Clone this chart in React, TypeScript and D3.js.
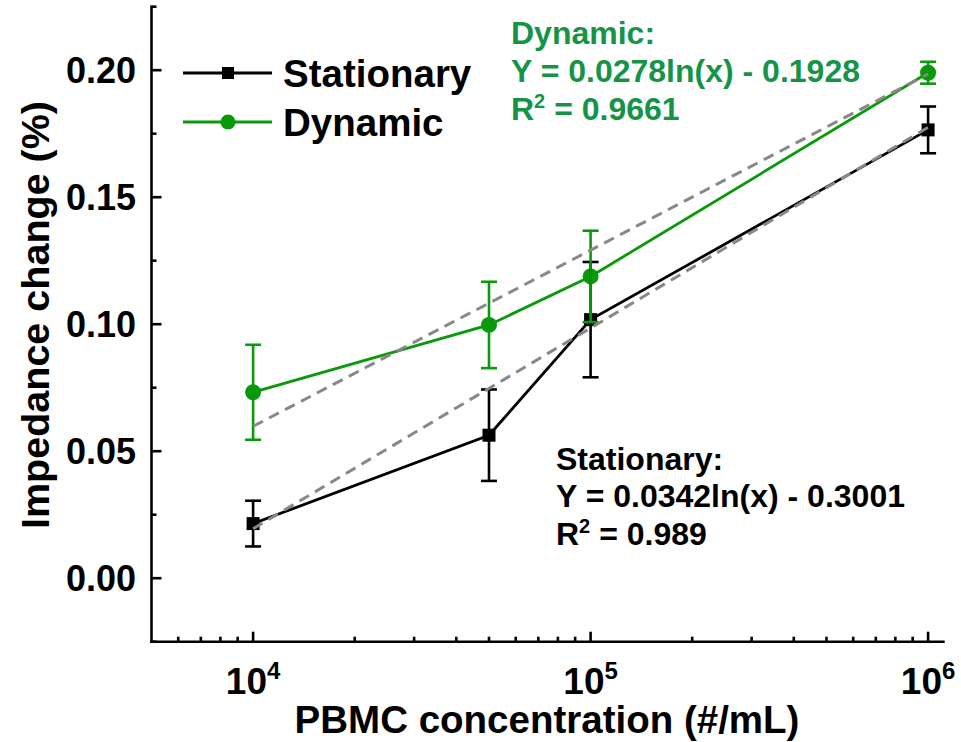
import React from "react";
import * as d3 from "d3";

const concentrations = [1e4, 5e4, 1e5, 1e6];
const stationaryMean = [0.0215, 0.0563, 0.1018, 0.1765];
const stationaryErr = [0.009, 0.018, 0.0227, 0.0092];
const dynamicMean = [0.0732, 0.0997, 0.1188, 0.199];
const dynamicErr = [0.0187, 0.017, 0.018, 0.0043];

const fitX = [1e4, 1e6];
const stationaryFit = [0.0195, 0.1775];
const dynamicFit = [0.0598, 0.1985];

const xMajorTicks = [1e4, 1e5, 1e6];
const xMajorExp = ["4", "5", "6"];
const xMinorTicks = [6e3, 7e3, 8e3, 9e3, 2e4, 3e4, 4e4, 5e4, 6e4, 7e4, 8e4, 9e4, 2e5, 3e5, 4e5, 5e5, 6e5, 7e5, 8e5, 9e5];
const yMajorTicks = [0, 0.05, 0.1, 0.15, 0.2];
const yMinorTicks = [-0.025, 0.025, 0.075, 0.125, 0.175, 0.225];

const xTitle = "PBMC concentration (#/mL)";
const yTitle = "Impedance change (%)";
const seriesNames = ["Stationary", "Dynamic"];
const stationaryNote = ["Stationary:", "Y = 0.0342ln(x) - 0.3001", "R", "2", " = 0.989"];
const dynamicNote = ["Dynamic:", "Y = 0.0278ln(x) - 0.1928", "R", "2", " = 0.9661"];

const BLACK = "#000000";
const GREEN = "#0a990a";
const TEXT_GREEN = "#159447";
const FONT = "'Liberation Sans', Arial, sans-serif";

export default function App() {
  const W = 961;
  const H = 742;
  const x = d3.scaleLog().domain([5000, 1.12e6]).range([151.5, 944.7]);
  const y = d3.scaleLinear().domain([-0.025, 0.225]).range([641.7, 6.7]);

  const line = d3
    .line<[number, number]>()
    .x((d) => x(d[0]))
    .y((d) => y(d[1]));

  const stPts = concentrations.map((c, i) => [c, stationaryMean[i]] as [number, number]);
  const dyPts = concentrations.map((c, i) => [c, dynamicMean[i]] as [number, number]);
  const stFit = fitX.map((c, i) => [c, stationaryFit[i]] as [number, number]);
  const dyFit = fitX.map((c, i) => [c, dynamicFit[i]] as [number, number]);

  const sq = 13;
  const r = 8;
  const cap = 8;

  const errBars = (means: number[], errs: number[], color: string) =>
    concentrations.map((c, i) => {
      const cx = x(c);
      const y1 = y(means[i] + errs[i]);
      const y2 = y(means[i] - errs[i]);
      return (
        <g key={"e" + color + i} stroke={color} strokeWidth={2.6}>
          <line x1={cx} x2={cx} y1={y1} y2={y2} />
          <line x1={cx - cap} x2={cx + cap} y1={y1} y2={y1} />
          <line x1={cx - cap} x2={cx + cap} y1={y2} y2={y2} />
        </g>
      );
    });

  return (
    <svg width={W} height={H} style={{ position: "absolute", left: 0, top: 0 }} fontFamily={FONT}>
      <rect width={W} height={H} fill="#ffffff" />
      {/* axes */}
      <g stroke="#000" strokeWidth={2.6} fill="none">
        <line x1={x(5000)} x2={x(5000)} y1={y(0.225) - 1.3} y2={y(-0.025) + 1.3} />
        <line x1={x(5000) - 1.3} x2={x(1.12e6)} y1={y(-0.025)} y2={y(-0.025)} />
        {yMajorTicks.map((t) => (
          <line key={"ym" + t} x1={x(5000)} x2={x(5000) + 10} y1={y(t)} y2={y(t)} />
        ))}
        {yMinorTicks.map((t) => (
          <line key={"yn" + t} x1={x(5000)} x2={x(5000) + 5} y1={y(t)} y2={y(t)} />
        ))}
        {xMajorTicks.map((t) => (
          <line key={"xm" + t} x1={x(t)} x2={x(t)} y1={y(-0.025)} y2={y(-0.025) - 10} />
        ))}
        {xMinorTicks.map((t) => (
          <line key={"xn" + t} x1={x(t)} x2={x(t)} y1={y(-0.025)} y2={y(-0.025) - 5} />
        ))}
      </g>
      {/* y tick labels */}
      {yMajorTicks.map((t) => (
        <text key={"yl" + t} x={136} y={y(t) + 13} textAnchor="end" fontSize={36} fontWeight="bold">
          {d3.format(".2f")(t)}
        </text>
      ))}
      {/* x tick labels */}
      {xMajorTicks.map((t, i) => (
        <text key={"xl" + t} x={x(t)} y={694} textAnchor="middle" fontSize={37} fontWeight="bold">
          10
          <tspan dy={-15} fontSize={24}>
            {xMajorExp[i]}
          </tspan>
        </text>
      ))}
      {/* axis titles */}
      <text x={547} y={733} textAnchor="middle" fontSize={38.5} fontWeight="bold">
        {xTitle}
      </text>
      <text
        transform={`translate(49, ${315}) rotate(-90)`}
        textAnchor="middle"
        fontSize={39.5}
        fontWeight="bold"
      >
        {yTitle}
      </text>

      {/* data lines */}
      <path d={line(stPts) || ""} fill="none" stroke={BLACK} strokeWidth={2.8} />
      {stPts.map((p, i) => (
        <rect key={"s" + i} x={x(p[0]) - sq / 2} y={y(p[1]) - sq / 2} width={sq} height={sq} fill={BLACK} />
      ))}
      <path d={line(dyPts) || ""} fill="none" stroke={GREEN} strokeWidth={2.8} />
      {dyPts.map((p, i) => (
        <circle key={"d" + i} cx={x(p[0])} cy={y(p[1])} r={r} fill={GREEN} />
      ))}
      {errBars(stationaryMean, stationaryErr, BLACK)}
      {errBars(dynamicMean, dynamicErr, GREEN)}

      {/* fit lines */}
      <path d={line(stFit) || ""} fill="none" stroke="#888888" strokeWidth={3} strokeDasharray="11,7" />
      <path d={line(dyFit) || ""} fill="none" stroke="#888888" strokeWidth={3} strokeDasharray="11,7" />

      {/* legend */}
      <g>
        <line x1={183} x2={272} y1={73} y2={73} stroke={BLACK} strokeWidth={2.8} />
        <rect x={228 - 6} y={73 - 6} width={12} height={12} fill={BLACK} />
        <text x={283} y={87} fontSize={38.5} fontWeight="bold">
          {seriesNames[0]}
        </text>
        <line x1={183} x2={272} y1={122} y2={122} stroke={GREEN} strokeWidth={2.8} />
        <circle cx={228} cy={122} r={7.5} fill={GREEN} />
        <text x={283} y={136} fontSize={38.5} fontWeight="bold">
          {seriesNames[1]}
        </text>
      </g>

      {/* annotations */}
      <g fill={TEXT_GREEN} fontSize={32} fontWeight="bold">
        <text x={511} y={44}>{dynamicNote[0]}</text>
        <text x={511} y={82}>{dynamicNote[1]}</text>
        <text x={511} y={120}>
          {dynamicNote[2]}
          <tspan dy={-12} fontSize={20}>{dynamicNote[3]}</tspan>
          <tspan dy={12}>{dynamicNote[4]}</tspan>
        </text>
      </g>
      <g fill={BLACK} fontSize={32} fontWeight="bold">
        <text x={556} y={470}>{stationaryNote[0]}</text>
        <text x={556} y={507}>{stationaryNote[1]}</text>
        <text x={556} y={545}>
          {stationaryNote[2]}
          <tspan dy={-12} fontSize={20}>{stationaryNote[3]}</tspan>
          <tspan dy={12}>{stationaryNote[4]}</tspan>
        </text>
      </g>
    </svg>
  );
}
